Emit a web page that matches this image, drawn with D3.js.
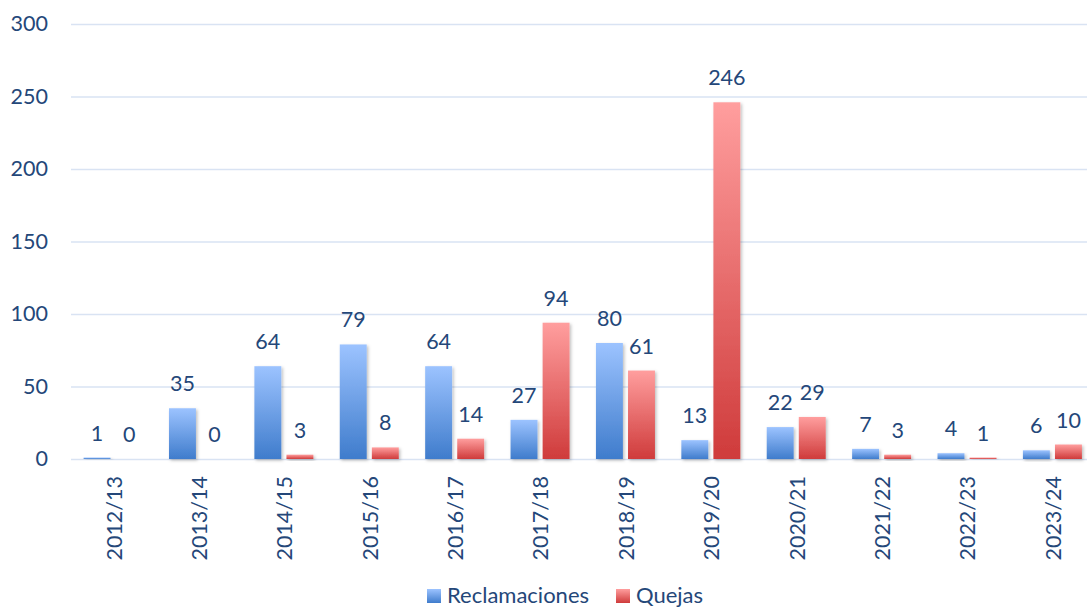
<!DOCTYPE html>
<html>
<head>
<meta charset="utf-8">
<script src="https://cdn.jsdelivr.net/npm/d3@7"></script>
<style>
html,body{margin:0;padding:0;background:#fff;}
svg{display:block;font-family:Lato,"Open Sans",sans-serif;}
</style>
</head>
<body>
<svg id="chart" width="1087" height="607"></svg>
<script>
const categories = ["2012/13","2013/14","2014/15","2015/16","2016/17","2017/18","2018/19","2019/20","2020/21","2021/22","2022/23","2023/24"];
const seriesNames = ["Reclamaciones","Quejas"];
const reclamaciones = [1,35,64,79,64,27,80,13,22,7,4,6];
const quejas = [0,0,3,8,14,94,61,246,29,3,1,10];
const yTicks = [0,50,100,150,200,250,300];

const textColor = "#244779";
const gridColor = "#d9e3f3";
const svg = d3.select("#chart");

const defs = svg.append("defs");
const grads = [
  {id:"gRec", top:"#9cc3ff", bottom:"#3f7ccc"},
  {id:"gQue", top:"#ff9e9e", bottom:"#cf3b3b"}
];
grads.forEach(g=>{
  const lg = defs.append("linearGradient").attr("id",g.id).attr("x1",0).attr("y1",0).attr("x2",0).attr("y2",1);
  lg.append("stop").attr("offset","0%").attr("stop-color",g.top);
  lg.append("stop").attr("offset","100%").attr("stop-color",g.bottom);
});
const f = defs.append("filter").attr("id","shadow").attr("x","-20%").attr("y","-20%").attr("width","150%").attr("height","150%");
f.append("feDropShadow").attr("dx",1.5).attr("dy",1.5).attr("stdDeviation",1.5).attr("flood-color","#000").attr("flood-opacity",0.25);

const x = d3.scaleBand().domain(categories).range([70.3, 1095]).padding(0);
const xs = d3.scaleBand().domain(seriesNames).range([13.3, 72.3]).paddingInner(0.16).paddingOuter(0);
const y = d3.scaleLinear().domain([0,300]).range([459,24]);

// grid + y axis
const yAxis = d3.axisLeft(y).tickValues(yTicks).tickSize(-(1095-71)).tickPadding(23);
const gy = svg.append("g").attr("transform","translate(71,0)").call(yAxis);
gy.select(".domain").remove();
gy.selectAll(".tick line").attr("stroke",gridColor).attr("stroke-width",1.6);
gy.selectAll(".tick text").attr("fill",textColor).attr("font-size",21.5).attr("font-family","Lato, sans-serif");

// bars
const data = categories.map((c,i)=>({cat:c, vals:[{s:"Reclamaciones",v:reclamaciones[i]},{s:"Quejas",v:quejas[i]}]}));
const groups = svg.append("g").selectAll("g").data(data).join("g")
  .attr("transform",d=>`translate(${x(d.cat)},0)`);
groups.selectAll("rect").data(d=>d.vals.filter(e=>e.v>0)).join("rect")
  .attr("x",d=>xs(d.s))
  .attr("width",xs.bandwidth())
  .attr("y",d=>y(d.v))
  .attr("height",d=>y(0)-y(d.v))
  .attr("fill",d=>d.s==="Reclamaciones"?"url(#gRec)":"url(#gQue)")
  .attr("filter","url(#shadow)");
groups.selectAll("text").data(d=>d.vals).join("text")
  .attr("x",d=>xs(d.s)+xs.bandwidth()/2)
  .attr("y",d=>y(d.v)-17)
  .attr("text-anchor","middle")
  .attr("fill",textColor)
  .attr("font-size",21.5)
  .text(d=>d.v);

// x axis labels
const xAxis = d3.axisBottom(x).tickSize(0).tickPadding(0);
const gx = svg.append("g").attr("transform","translate(0,459)").call(xAxis);
gx.select(".domain").remove();
gx.selectAll(".tick text")
  .attr("transform","translate(1,17) rotate(-90)")
  .attr("text-anchor","end")
  .attr("dy","0.35em")
  .attr("x",0).attr("y",0)
  .attr("fill",textColor).attr("font-size",21.5).attr("font-family","Lato, sans-serif");

// legend
const legend = svg.append("g");
const legendItems = [{name:"Reclamaciones",fill:"url(#gRec)",x:427},{name:"Quejas",fill:"url(#gQue)",x:616}];
legendItems.forEach(l=>{
  legend.append("rect").attr("x",l.x).attr("y",589).attr("width",14).attr("height",14).attr("fill",l.fill);
  legend.append("text").attr("x",l.x+20).attr("y",603).attr("fill",textColor).attr("font-size",22).text(l.name);
});
</script>
</body>
</html>
